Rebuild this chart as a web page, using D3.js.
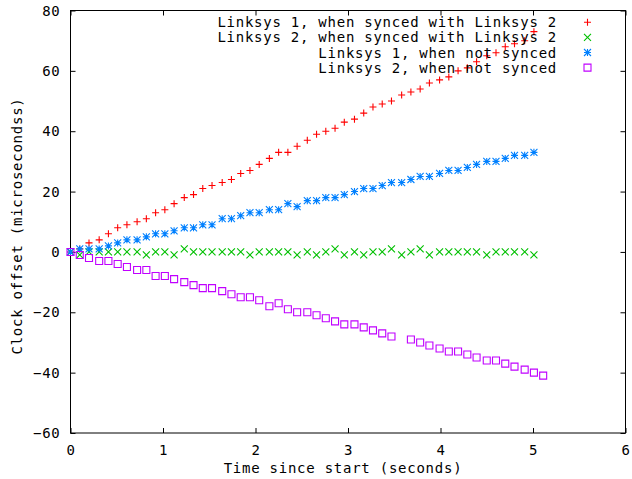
<!DOCTYPE html>
<html><head><meta charset="utf-8">
<script src="https://cdn.jsdelivr.net/npm/d3@7/dist/d3.min.js"></script>
<style>
html,body{margin:0;padding:0;background:#fff;}
svg{display:block;}
text{font-family:"DejaVu Sans Mono",monospace;font-size:14px;letter-spacing:0.75px;fill:#000;}
</style></head>
<body>
<svg id="chart" width="632" height="479"></svg>
<script>
// sample times (seconds)
const times = [0.00,0.10,0.20,0.31,0.41,0.51,0.61,0.72,0.82,0.92,1.02,1.12,1.23,1.33,1.43,1.53,1.64,1.74,1.84,1.94,
  2.04,2.15,2.25,2.35,2.45,2.56,2.66,2.76,2.86,2.96,3.07,3.17,3.27,3.37,3.47,3.58,3.68,3.78,3.88,3.99,
  4.09,4.19,4.29,4.39,4.50,4.60,4.70,4.80,4.91,5.01,5.11];

const linksys1Synced = [0,1,3,4,6,8,9,10,11,13,14,16,18,19,21,22,23,24,26,27,29,31,33,33,35,37,39,40,41,43,44,46,48,49,50,52,53,54,56,57,58,60,61,63,65,66,68,69,70,73];
const linksys2Synced = [0,-1,0,0,0,0,0,0,-1,0,0,-1,1,0,0,0,0,0,0,-1,0,0,0,0,-1,0,-1,0,1,-1,0,-1,0,0,1,-1,0,1,-1,0,0,0,0,0,-1,0,0,0,0,-1];
const linksys1NotSynced = [0,1,1,1,2,3,4,4,5,6,6,7,8,8,9,9,11,11,12,13,13,14,14,16,15,17,17,18,18,19,20,21,21,22,23,23,24,25,25,26,27,27,28,29,30,30,31,32,32,33];
const linksys2NotSynced = [0,-1,-2,-3,-3,-4,-5,-6,-6,-8,-8,-9,-10,-11,-12,-12,-13,-14,-15,-15,-16,-18,-17,-19,-20,-20,-21,-22,-23,-24,-24,-25,-26,-27,-28,null,-29,-30,-31,-32,-33,-33,-34,-35,-36,-36,-37,-38,-39,-40,-41];

const seriesNames = ["Linksys 1, when synced with Linksys 2","Linksys 2, when synced with Linksys 2","Linksys 1, when not synced","Linksys 2, when not synced"];
const seriesColors = ["#ff0000","#00c000","#0080ff","#c000ff"];
const seriesSymbols = ["plus","cross","star","square"];
const seriesValues = [linksys1Synced, linksys2Synced, linksys1NotSynced, linksys2NotSynced];

const xTicks = [0,1,2,3,4,5,6];
const yTicks = [-60,-40,-20,0,20,40,60,80];
const xTitle = "Time since start (seconds)";
const yTitle = "Clock offset (microsecondss)";

const svg = d3.select("#chart");
const L = 70.5, R = 625.5, T = 10.5, B = 433;
const x = d3.scaleLinear().domain([0,6]).range([L,R]);
const y = d3.scaleLinear().domain([-60,80]).range([B,T]);

const S = 3.5;
const symbolPath = {
  plus: `M${-S},0H${S}M0,${-S}V${S}`,
  cross: `M${-S},${-S}L${S},${S}M${-S},${S}L${S},${-S}`,
  star: `M${-S},0H${S}M0,${-S}V${S}M${-S},${-S}L${S},${S}M${-S},${S}L${S},${-S}`,
  square: `M${-S},${-S}H${S}V${S}H${-S}Z`
};

// axes (inward ticks, mirrored)
const tk = 5;
const gl = svg.append("g").attr("transform",`translate(${L},0)`)
  .call(d3.axisLeft(y).tickValues(yTicks).tickSize(-tk).tickPadding(10).tickFormat(d3.format("d")));
const gr = svg.append("g").attr("transform",`translate(${R},0)`)
  .call(d3.axisRight(y).tickValues(yTicks).tickSize(-tk).tickFormat(""));
const gb = svg.append("g").attr("transform",`translate(0,${B})`)
  .call(d3.axisBottom(x).tickValues(xTicks).tickSize(-tk).tickPadding(12).tickFormat(d3.format("d")));
const gt = svg.append("g").attr("transform",`translate(0,${T})`)
  .call(d3.axisTop(x).tickValues(xTicks).tickSize(-tk).tickFormat(""));
[gl,gr,gb,gt].forEach(g=>{
  g.select(".domain").remove();
  g.selectAll("line").attr("stroke","#000");
  g.selectAll("text").attr("font-family",null).attr("font-size",null).style("fill","#000");
});
gl.selectAll(".tick text").attr("dy","0.33em");
gb.selectAll(".tick text").attr("dy","0.7em");

svg.append("rect").attr("x",L).attr("y",T).attr("width",R-L).attr("height",B-T)
  .attr("fill","none").attr("stroke","#000").attr("stroke-width",1);

// series
seriesValues.forEach((vals,si)=>{
  const pts = vals.map((v,i)=>({t:times[i],v})).filter(d=>d.v!==null);
  svg.append("g").selectAll("path").data(pts).join("path")
    .attr("transform",d=>`translate(${x(d.t)},${y(d.v)})`)
    .attr("d",symbolPath[seriesSymbols[si]])
    .attr("fill","none").attr("stroke",seriesColors[si]).attr("stroke-width",1.1);
});

// legend
const lg = svg.append("g");
seriesNames.forEach((name,i)=>{
  const by = 27.3 + i*15.1;
  lg.append("text").attr("x",557).attr("y",by).attr("text-anchor","end").text(name);
  lg.append("path").attr("transform",`translate(587.5,${by-5})`)
    .attr("d",symbolPath[seriesSymbols[i]]).attr("fill","none")
    .attr("stroke",seriesColors[i]).attr("stroke-width",1.1);
});

// titles
svg.append("text").attr("x",343).attr("y",473).attr("text-anchor","middle").text(xTitle);
svg.append("text").attr("transform","translate(22,226) rotate(-90)").attr("text-anchor","middle").text(yTitle);
</script>
</body></html>
